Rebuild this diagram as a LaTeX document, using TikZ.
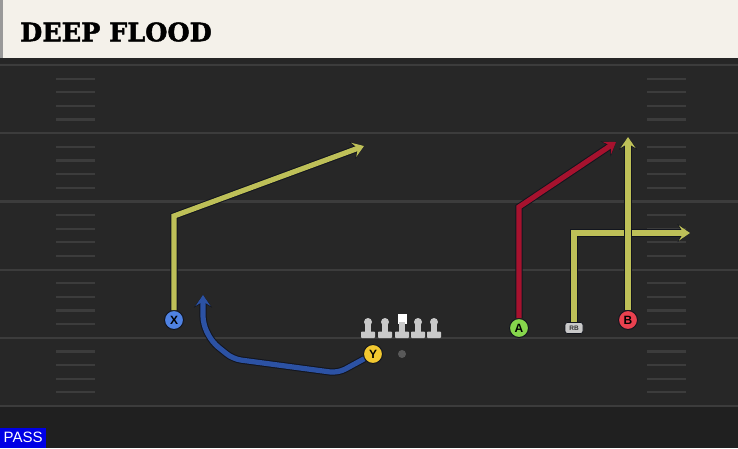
\documentclass[tikz,border=0pt]{standalone}
\usepackage{fontspec}
\usetikzlibrary{arrows.meta}
\newfontfamily\titlefont[FakeBold=1.8]{DejaVu Serif}
\newfontfamily\labelfont{Liberation Sans}
\definecolor{fieldgray}{HTML}{272727}
\definecolor{fieldlow}{HTML}{202020}
\definecolor{yardgray}{HTML}{3C3C3C}
\definecolor{headcream}{HTML}{F4F1EA}
\definecolor{edgedark}{HTML}{12151E}
\definecolor{routeyellow}{HTML}{BEC058}
\definecolor{routered}{HTML}{A6122E}
\definecolor{routeblue}{HTML}{2C52A4}
\definecolor{linegray}{HTML}{C9C9C9}
\definecolor{xblue}{HTML}{4F82E3}
\definecolor{ygold}{HTML}{F2C830}
\definecolor{agreen}{HTML}{86D64C}
\definecolor{bred}{HTML}{E9414F}
\tikzset{
  routeline/.style={line width=5.2pt, draw=#1, line join=miter,
    -{Stealth[length=11pt,width=15pt,inset=4.5pt]},
    preaction={draw=edgedark, line width=7.2pt,
      -{Stealth[length=12.5pt,width=18pt,inset=5pt]}}},
  player/.style={circle, draw=edgedark, line width=1pt, fill=#1,
    minimum size=19pt, inner sep=0pt, font=\labelfont\bfseries\fontsize{12}{12}\selectfont, text=black},
  lineman/.style={fill=linegray},
}
\begin{document}
\begin{tikzpicture}[x=1pt,y=-1pt]
\useasboundingbox (0,0) rectangle (738,448);

% Field and header
\fill[fieldgray] (0,58) rectangle (738,448);
\fill[fieldlow] (0,406) rectangle (738,448);
\fill[black!85] (0,58) rectangle (738,63);
\fill[headcream] (0,0) rectangle (738,58);
\fill[black!40] (0,0) rectangle (3,58);
\node[anchor=west, font=\titlefont\bfseries\fontsize{25.5}{25.5}\selectfont, inner sep=0pt] (title) at (20,32) {DEEP FLOOD};

% Yard lines and hash marks
\foreach \k in {0,...,5}
  \draw[yardgray, line width=2.2pt] (0,65+68.2*\k) -- (738,65+68.2*\k);
\foreach \k in {0,...,4}
  \foreach \j in {1,...,4}{
    \draw[yardgray, line width=2.2pt] (56,65+68.2*\k+13.64*\j) -- (95,65+68.2*\k+13.64*\j);
    \draw[yardgray, line width=2.2pt] (647,65+68.2*\k+13.64*\j) -- (686,65+68.2*\k+13.64*\j);
  }

% Offensive line and ball
\foreach \x in {368,385,418,434}{
  \fill[lineman] (\x,322) circle (4);
  \fill[lineman] (\x-2.6,322) rectangle (\x+2.6,333);
  \fill[lineman, rounded corners=0.8pt] (\x-7,331.5) rectangle (\x+7,338);
}
\fill[white] (397.5,314) rectangle (406.5,323.5);
\fill[lineman] (399.4,322) rectangle (404.6,333);
\fill[lineman, rounded corners=0.8pt] (395,331.5) rectangle (409,338);
\fill[gray!70!black] (402,354) circle (4);

% Players
\node[player=xblue] (X) at (174,320) {X};
\node[player=ygold] (Y) at (373,354) {Y};
\node[player=agreen] (A) at (519,328) {A};
\node[player=bred] (B) at (628,320) {B};
\node[fill=linegray, draw=edgedark, line width=0.7pt, rounded corners=2.5pt, minimum width=18pt, minimum height=11pt, inner sep=0pt, font=\labelfont\bfseries\fontsize{6.5}{6.5}\selectfont, text=black!80] (RB) at (574,328) {RB};

% Route break points
\coordinate (xbreak) at (174,216);
\coordinate (xend) at (364,146);
\coordinate (abreak) at (519,207);
\coordinate (aend) at (616,142);
\coordinate (rbbreak) at (574,233);
\coordinate (rbend) at (690,233);
\coordinate (bend) at (628,137);
\coordinate (yend) at (203,295);

% Routes
\draw[routeline=routeyellow] (X) -- (xbreak) -- (xend);
\draw[routeline=routered] (A) -- (abreak) -- (aend);
\draw[routeline=routeyellow] (RB) -- (rbbreak) -- (rbend);
\draw[routeline=routeyellow] (B) -- (bend);
\draw[routeline=routeblue, rounded corners=8pt] (Y) -- (338,373) -- (233,359) -- (212,342) -- (203,324) -- (yend);

% Play type
\node[fill=blue!90!black, anchor=south west, minimum width=46pt, minimum height=20pt, inner sep=0pt, text=white, font=\labelfont\fontsize{15}{15}\selectfont] (passtag) at (0,448) {PASS};
\end{tikzpicture}
\end{document}
